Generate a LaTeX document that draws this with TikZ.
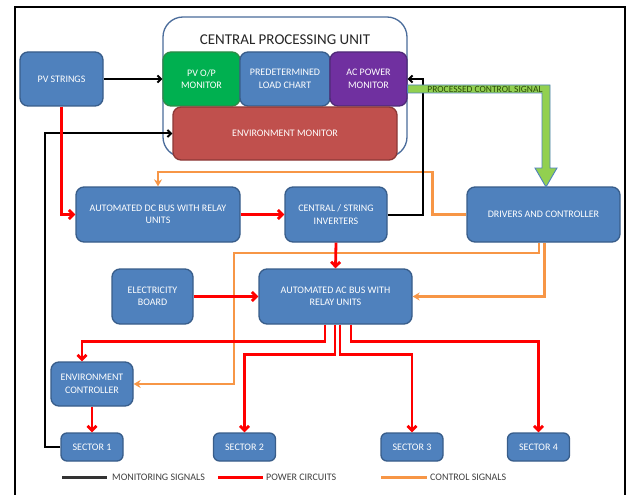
\documentclass[tikz,border=0pt]{standalone}
\usepackage{fontspec}
\setmainfont{Carlito}
\usetikzlibrary{arrows.meta,calc}
\definecolor{boxblue}{HTML}{4F81BD}
\definecolor{boxedge}{HTML}{385D8A}
\definecolor{mongreen}{HTML}{00B050}
\definecolor{greenedge}{HTML}{2E8B47}
\definecolor{monpurple}{HTML}{7030A0}
\definecolor{purpleedge}{HTML}{4F2A78}
\definecolor{monred}{HTML}{C0504D}
\definecolor{rededge}{HTML}{8C3836}
\definecolor{pwrred}{HTML}{FF0000}
\definecolor{ctrlorange}{HTML}{F79646}
\definecolor{sigreen}{HTML}{92D050}
\definecolor{sigtext}{HTML}{2B4A0A}
\definecolor{legtext}{HTML}{404040}
\definecolor{cpuedge}{HTML}{4A6C9B}
\begin{document}
\begin{tikzpicture}[x=1pt,y=-1pt,
  box/.style={draw=boxedge,fill=boxblue,line width=1.3pt,rounded corners=8pt,
    text=white,align=center,font=\fontsize{10}{12.5}\selectfont,inner sep=1pt},
  power/.style={draw=pwrred,line width=2.8pt,-{Straight Barb[length=4.5pt,width=9pt]}},
  monitor/.style={draw=black,line width=2pt,-{Straight Barb[length=3.5pt,width=7pt]}},
  control/.style={draw=ctrlorange,line width=2.4pt,-{Stealth[length=7pt,width=8pt]}},
  legendtext/.style={anchor=west,text=legtext,font=\fontsize{10}{12}\selectfont,inner sep=0pt}
]
\useasboundingbox (0,0) rectangle (630,495);
\clip (0,0) rectangle (630,495);
\fill[white] (0,0) rectangle (630,495);
\draw[line width=1.6pt] (15,7) rectangle (625,512);

% CPU
\node[draw=cpuedge,fill=white,line width=1.3pt,rounded corners=20pt,
  minimum width=244pt,minimum height=140pt] (cpu) at (285,87) {};
\node[font=\fontsize{15}{16}\selectfont,text=black!85] (cputitle) at (285,40) {CENTRAL PROCESSING UNIT};
\node[box,fill=mongreen,draw=greenedge,minimum width=77pt,minimum height=54pt] (pvop) at (201.5,79) {PV O/P\\MONITOR};
\node[box,minimum width=90pt,minimum height=54pt] (plc) at (285,79) {PREDETERMINED\\LOAD CHART};
\node[box,fill=monpurple,draw=purpleedge,minimum width=77pt,minimum height=54pt] (acpm) at (368.5,79) {AC POWER\\MONITOR};
\node[box,fill=monred,draw=rededge,minimum width=224pt,minimum height=53pt] (envm) at (285,133.5) {ENVIRONMENT MONITOR};

% other boxes
\node[box,minimum width=83pt,minimum height=54pt] (pv) at (61.5,79) {PV STRINGS};
\node[box,minimum width=164pt,minimum height=55pt] (dcbus) at (158,214.5) {AUTOMATED DC BUS WITH RELAY\\UNITS};
\node[box,minimum width=102pt,minimum height=55pt] (inv) at (336,214.5) {CENTRAL / STRING\\INVERTERS};
\node[box,minimum width=153pt,minimum height=55pt] (drv) at (543.5,214.5) {DRIVERS AND CONTROLLER};
\node[box,minimum width=81pt,minimum height=55pt] (eb) at (152.5,296.5) {ELECTRICITY\\BOARD};
\node[box,minimum width=153pt,minimum height=55pt] (acbus) at (335.5,296.5) {AUTOMATED AC BUS WITH\\RELAY UNITS};
\node[box,minimum width=82pt,minimum height=44pt] (envc) at (92,384) {ENVIRONMENT\\CONTROLLER};
\node[box,rounded corners=6pt,minimum width=62pt,minimum height=28pt] (s1) at (92,447) {SECTOR 1};
\node[box,rounded corners=6pt,minimum width=62pt,minimum height=28pt] (s2) at (244.5,447) {SECTOR 2};
\node[box,rounded corners=6pt,minimum width=62pt,minimum height=28pt] (s3) at (412,447) {SECTOR 3};
\node[box,rounded corners=6pt,minimum width=62pt,minimum height=28pt] (s4) at (538.5,447) {SECTOR 4};

% control signals (orange)
\draw[control] (drv.west) -- ++(-34,0) -- ++(0,-42.5) -| (dcbus.north);
\coordinate (o2) at (234,253);
\draw[control] ($(drv.south)+(-4.5,0)$) |- (o2) |- (envc.east);
\draw[control] ($(drv.south)+(1,0)$) |- (acbus.east);

% monitoring signals (black)
\draw[monitor] (pv.east) -- (pvop.west);
\draw[monitor] (s1.west) -- ++(-15,0) |- (envm.west);
\draw[monitor] (inv.east) -- ++(35,0) |- (acpm.east);

% power circuits (red)
\draw[power] (pv.south) |- (dcbus.west);
\draw[power] (dcbus.east) -- (inv.west);
\draw[power] (inv.south) -- (acbus.north);
\draw[power] (eb.east) -- (acbus.west);
\draw[power] ($(acbus.south)+(-10.5,0)$) -- ++(0,17) -| ($(envc.north)+(-10,0)$);
\draw[power] ($(acbus.south)+(-0.5,0)$) -- ++(0,30) -| (s2.north);
\draw[power] ($(acbus.south)+(4.5,0)$) -- ++(0,30) -| (s3.north);
\draw[power] ($(acbus.south)+(15.5,0)$) -- ++(0,17) -| (s4.north);
\draw[power] (envc.south) -- (s1.north);

% processed control signal (green block arrow)
\coordinate (g0) at ($(acpm.east)+(0,10)$);
\draw[fill=sigreen,draw=boxblue,line width=0.9pt]
  ($(g0)+(0,-4)$) -- (550,85) -- (550,168) -- (557,168) -- (546,187) -- (535,168)
  -- (542,168) -- (542,93) -- ($(g0)+(0,4)$) -- cycle;
\node[text=sigtext,font=\fontsize{9.5}{10}\selectfont,inner sep=0pt] (pcs) at (485,89) {PROCESSED CONTROL SIGNAL};

% legend
\coordinate (lb1) at (62,477); \coordinate (lb2) at (107,477);
\coordinate (lr1) at (218,477); \coordinate (lr2) at (263,477);
\coordinate (lo1) at (381,477); \coordinate (lo2) at (427,477);
\draw[line width=3pt,black!80] (lb1) -- (lb2);
\draw[line width=3pt,pwrred] (lr1) -- (lr2);
\draw[line width=3pt,ctrlorange] (lo1) -- (lo2);
\node[legendtext] (lbt) at (112,477) {MONITORING SIGNALS};
\node[legendtext] (lrt) at (266,477) {POWER CIRCUITS};
\node[legendtext] (lot) at (430,477) {CONTROL SIGNALS};
\end{tikzpicture}
\end{document}
